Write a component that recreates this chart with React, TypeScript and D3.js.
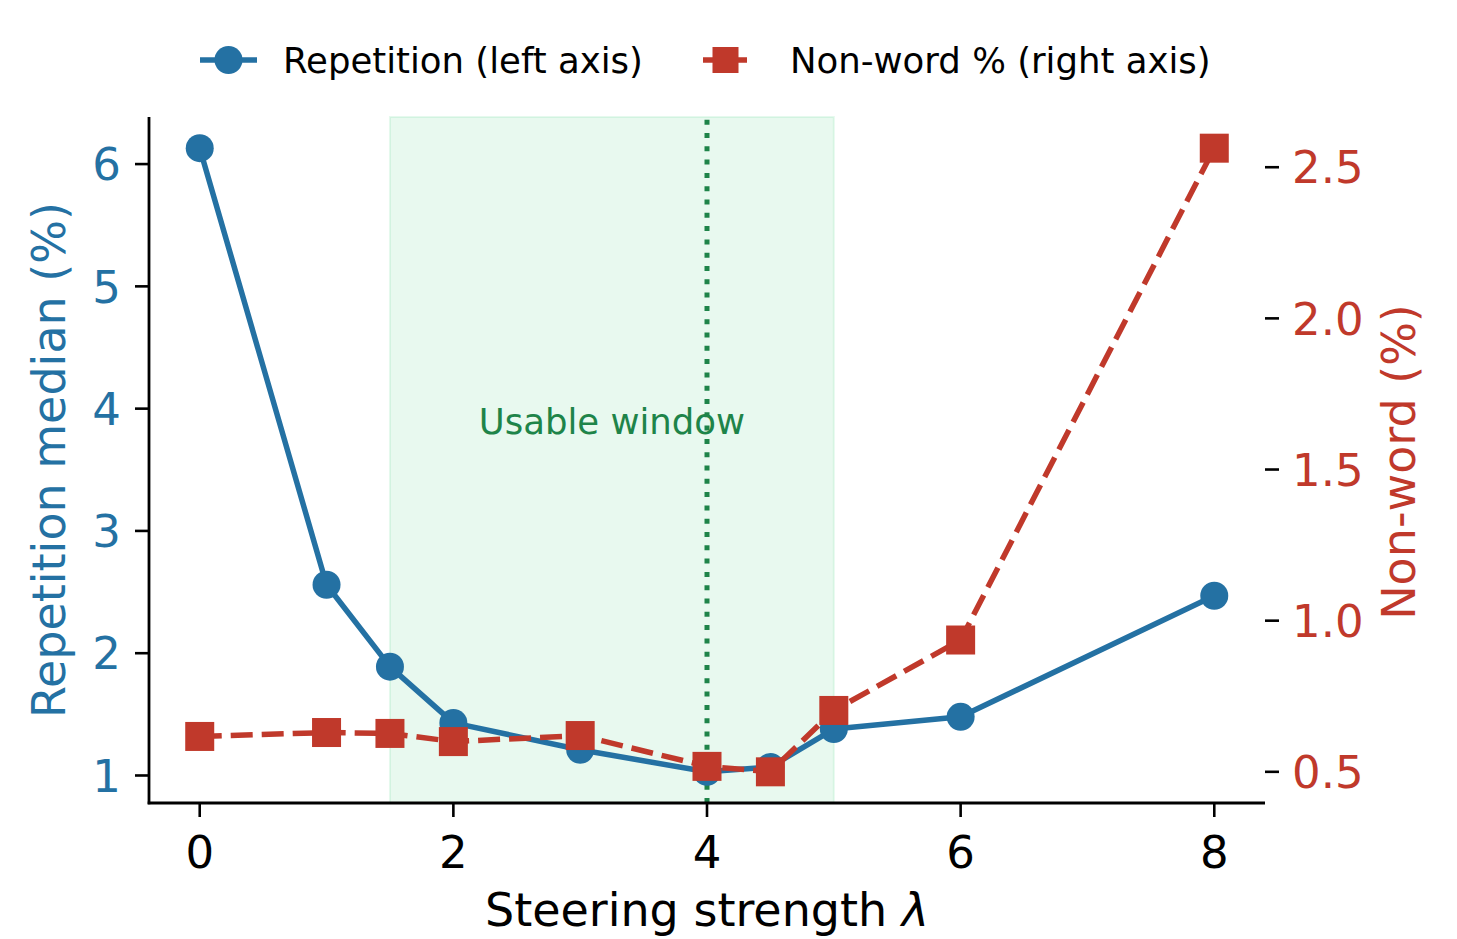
import React from "react";
import * as d3 from "d3";

// Steering strength λ values sampled
const lambdas = [0, 1, 1.5, 2, 3, 4, 4.5, 5, 6, 8];
// Repetition median (%), left axis
const repetition = [6.13, 2.56, 1.89, 1.43, 1.21, 1.03, 1.07, 1.38, 1.48, 2.47];
// Non-word (%), right axis
const nonword = [0.617, 0.63, 0.627, 0.6, 0.62, 0.518, 0.5, 0.703, 0.936, 2.563];

const xTicks = [0, 2, 4, 6, 8];
const leftTicks = [1, 2, 3, 4, 5, 6];
const rightTicks = [0.5, 1.0, 1.5, 2.0, 2.5];

const windowStart = 1.5;
const windowEnd = 5;
const chosenLambda = 4;

const BLUE = "#2471a3";
const RED = "#c0392b";
const GREEN = "#1e8449";
const SPAN = "#2ecc71";
const FONT = "'DejaVu Sans', sans-serif";

const W = 1457;
const H = 939;
const plot = { left: 149, right: 1265, top: 117, bottom: 803 };

function padded(values: number[], frac = 0.05): [number, number] {
  const [lo, hi] = d3.extent(values) as [number, number];
  const m = (hi - lo) * frac;
  return [lo - m, hi + m];
}

export default function App() {
  const x = d3.scaleLinear().domain([-0.4, 8.4]).range([plot.left, plot.right]);
  const yL = d3.scaleLinear().domain(padded(repetition)).range([plot.bottom, plot.top]);
  const yR = d3.scaleLinear().domain(padded(nonword)).range([plot.bottom, plot.top]);

  const repPts = lambdas.map((l, i) => [x(l), yL(repetition[i])] as [number, number]);
  const nwPts = lambdas.map((l, i) => [x(l), yR(nonword[i])] as [number, number]);
  const line = d3.line();

  const tickLen = 14;
  const tickW = 2.6;
  const tickFont = 45;
  const labelFont = 46;
  const smallFont = 35.5;
  const lw = 5.5;
  const r = 14;
  const sq = 29;

  return (
    <svg width={W} height={H} style={{ position: "absolute", left: 0, top: 0, background: "#fff" }} fontFamily={FONT}>
      {/* usable window shading */}
      <rect
        x={x(windowStart)}
        y={plot.top}
        width={x(windowEnd) - x(windowStart)}
        height={plot.bottom - plot.top}
        fill={SPAN}
        fillOpacity={0.11}
        stroke={SPAN}
        strokeOpacity={0.12}
        strokeWidth={2}
      />
      {/* chosen strength */}
      <line
        x1={x(chosenLambda)}
        x2={x(chosenLambda)}
        y1={plot.bottom}
        y2={plot.top}
        stroke={GREEN}
        strokeWidth={5}
        strokeDasharray="5,8.3"
      />
      <text
        x={(x(windowStart) + x(windowEnd)) / 2}
        y={434}
        textAnchor="middle"
        fontSize={smallFont}
        fill={GREEN}
      >
        Usable window
      </text>

      {/* repetition series */}
      <path d={line(repPts) || ""} fill="none" stroke={BLUE} strokeWidth={lw} strokeLinejoin="round" />
      {repPts.map(([cx, cy], i) => (
        <circle key={"r" + i} cx={cx} cy={cy} r={r} fill={BLUE} />
      ))}

      {/* non-word series */}
      <path
        d={line(nwPts) || ""}
        fill="none"
        stroke={RED}
        strokeWidth={lw}
        strokeDasharray="22,9"
        strokeLinejoin="round"
      />
      {nwPts.map(([cx, cy], i) => (
        <rect key={"n" + i} x={cx - sq / 2} y={cy - sq / 2} width={sq} height={sq} fill={RED} />
      ))}

      {/* spines */}
      <line x1={plot.left} x2={plot.left} y1={plot.top} y2={plot.bottom + 1.3} stroke="#000" strokeWidth={2.8} />
      <line x1={plot.left - 1.3} x2={plot.right} y1={plot.bottom} y2={plot.bottom} stroke="#000" strokeWidth={2.8} />

      {/* x axis */}
      {xTicks.map((t) => (
        <g key={"x" + t}>
          <line x1={x(t)} x2={x(t)} y1={plot.bottom} y2={plot.bottom + tickLen} stroke="#000" strokeWidth={tickW} />
          <text x={x(t)} y={868} textAnchor="middle" fontSize={tickFont} fill="#000">
            {t}
          </text>
        </g>
      ))}
      <text x={(plot.left + plot.right) / 2} y={926} textAnchor="middle" fontSize={labelFont} fill="#000">
        Steering strength <tspan fontStyle="italic">λ</tspan>
      </text>

      {/* left axis */}
      {leftTicks.map((t) => (
        <g key={"l" + t}>
          <line x1={plot.left - tickLen} x2={plot.left} y1={yL(t)} y2={yL(t)} stroke="#000" strokeWidth={tickW} />
          <text x={121} y={yL(t)} dy="0.36em" textAnchor="end" fontSize={tickFont} fill={BLUE}>
            {t}
          </text>
        </g>
      ))}
      <text
        transform={`translate(65, 460) rotate(-90)`}
        textAnchor="middle"
        fontSize={labelFont}
        fill={BLUE}
      >
        Repetition median (%)
      </text>

      {/* right axis */}
      {rightTicks.map((t) => (
        <g key={"rt" + t}>
          <line x1={plot.right} x2={plot.right + tickLen} y1={yR(t)} y2={yR(t)} stroke="#000" strokeWidth={tickW} />
          <text x={1292} y={yR(t)} dy="0.36em" textAnchor="start" fontSize={tickFont} fill={RED}>
            {t.toFixed(1)}
          </text>
        </g>
      ))}
      <text
        transform={`translate(1415, 462) rotate(-90)`}
        textAnchor="middle"
        fontSize={labelFont}
        fill={RED}
      >
        Non-word (%)
      </text>

      {/* legend */}
      <g>
        <line x1={200} x2={257} y1={60} y2={60} stroke={BLUE} strokeWidth={lw} />
        <circle cx={228.5} cy={60} r={r} fill={BLUE} />
        <text x={283} y={73} fontSize={smallFont} fill="#000">
          Repetition (left axis)
        </text>
        <line x1={703} x2={747} y1={60} y2={60} stroke={RED} strokeWidth={lw} strokeDasharray="22,9" />
        <rect x={725.5 - 13} y={60 - 13} width={26} height={26} fill={RED} />
        <text x={790} y={73} fontSize={smallFont} fill="#000">
          Non-word % (right axis)
        </text>
      </g>
    </svg>
  );
}
